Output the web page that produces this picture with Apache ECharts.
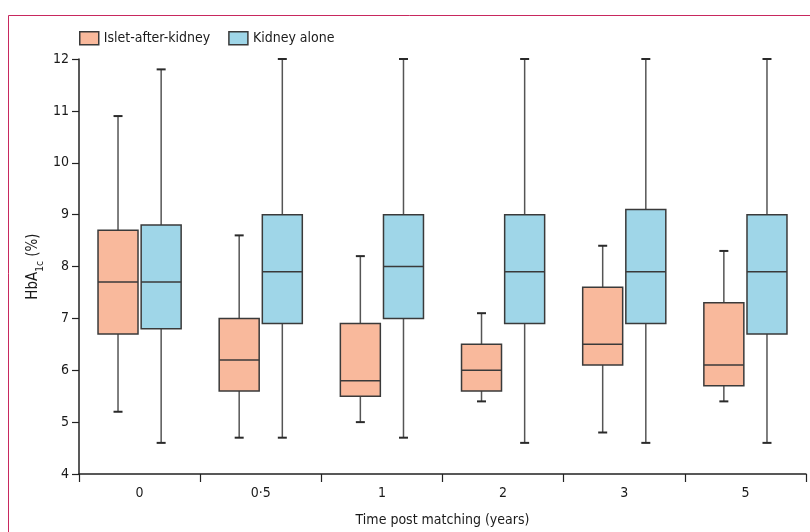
<!DOCTYPE html>
<html>
<head>
<meta charset="utf-8">
<script src="https://cdn.jsdelivr.net/npm/echarts@6/dist/echarts.min.js"></script>
<style>
html,body{margin:0;padding:0;background:#fff;}
#chart{width:810px;height:532px;}
</style>
</head>
<body>
<div id="chart"></div>
<script>
var categories = ['0', '0·5', '1', '2', '3', '5'];
var yTicks = [4, 5, 6, 7, 8, 9, 10, 11, 12];

var isletMin = [5.2, 4.7, 5.0, 5.4, 4.8, 5.4];
var isletQ1  = [6.7, 5.6, 5.5, 5.6, 6.1, 5.7];
var isletMed = [7.7, 6.2, 5.8, 6.0, 6.5, 6.1];
var isletQ3  = [8.7, 7.0, 6.9, 6.5, 7.6, 7.3];
var isletMax = [10.9, 8.6, 8.2, 7.1, 8.4, 8.3];

var kidneyMin = [4.6, 4.7, 4.7, 4.6, 4.6, 4.6];
var kidneyQ1  = [6.8, 6.9, 7.0, 6.9, 6.9, 6.7];
var kidneyMed = [7.7, 7.9, 8.0, 7.9, 7.9, 7.9];
var kidneyQ3  = [8.8, 9.0, 9.0, 9.0, 9.1, 9.0];
var kidneyMax = [11.8, 12, 12, 12, 12, 12];

var FONT = "'Liberation Sans Narrow', 'DejaVu Sans Condensed', 'Open Sans', sans-serif";
var FS = 14;
var TXT = '#1a1a1a';
var isletColor = '#f9b99c';
var kidneyColor = '#9fd6e8';
var edgeColor = '#3a3a3a';

function build(mins, q1s, meds, q3s, maxs) {
  return categories.map(function (c, i) {
    return [i, mins[i], q1s[i], meds[i], q3s[i], maxs[i]];
  });
}

function makeRender(offsetFrac, fill) {
  return function (params, api) {
    var idx = api.value(0);
    var band = api.size([1, 0])[0];
    var cx = api.coord([idx, 0])[0] + offsetFrac * band;
    var w = band * 0.33;
    var yMin = api.coord([idx, api.value(1)])[1];
    var yQ1 = api.coord([idx, api.value(2)])[1];
    var yMed = api.coord([idx, api.value(3)])[1];
    var yQ3 = api.coord([idx, api.value(4)])[1];
    var yMax = api.coord([idx, api.value(5)])[1];
    var cap = 4.5;
    var whiskerStyle = { stroke: '#555', lineWidth: 1.5 };
    var capStyle = { stroke: '#2a2a2a', lineWidth: 2 };
    return {
      type: 'group',
      children: [
        { type: 'line', shape: { x1: cx, y1: yMax, x2: cx, y2: yQ3 }, style: whiskerStyle },
        { type: 'line', shape: { x1: cx, y1: yQ1, x2: cx, y2: yMin }, style: whiskerStyle },
        { type: 'line', shape: { x1: cx - cap, y1: yMax, x2: cx + cap, y2: yMax }, style: capStyle },
        { type: 'line', shape: { x1: cx - cap, y1: yMin, x2: cx + cap, y2: yMin }, style: capStyle },
        { type: 'rect', shape: { x: cx - w / 2, y: yQ3, width: w, height: yQ1 - yQ3 },
          style: { fill: fill, stroke: edgeColor, lineWidth: 1.5 } },
        { type: 'line', shape: { x1: cx - w / 2, y1: yMed, x2: cx + w / 2, y2: yMed },
          style: { stroke: edgeColor, lineWidth: 1.5 } }
      ]
    };
  };
}

var chart = echarts.init(document.getElementById('chart'), null, { renderer: 'canvas' });
chart.setOption({
  animation: false,
  backgroundColor: '#fff',
  textStyle: { fontFamily: FONT },
  graphic: [{
    type: 'polyline',
    shape: { points: [[8.5, 532], [8.5, 15.5], [810, 15.5]] },
    style: { stroke: '#c8285e', lineWidth: 1, fill: null },
    silent: true
  }],
  legend: {
    left: 74,
    top: 26,
    itemWidth: 19,
    itemHeight: 13,
    itemGap: 18,
    textStyle: { fontFamily: FONT, fontSize: FS, color: TXT },
    data: [
      { name: 'Islet-after-kidney', icon: 'rect', itemStyle: { color: isletColor, borderColor: edgeColor, borderWidth: 1.5 } },
      { name: 'Kidney alone', icon: 'rect', itemStyle: { color: kidneyColor, borderColor: edgeColor, borderWidth: 1.5 } }
    ]
  },
  grid: { left: 79, right: 4, top: 59, bottom: 58, containLabel: false, outerBoundsMode: 'none' },
  xAxis: {
    type: 'category',
    data: categories,
    boundaryGap: true,
    name: 'Time post matching (years)',
    nameLocation: 'middle',
    nameGap: 39,
    nameMoveOverlap: false,
    nameTextStyle: { fontFamily: FONT, fontSize: FS, color: TXT },
    axisLine: { show: true, lineStyle: { color: '#222', width: 1.5 } },
    axisTick: { show: true, length: 8, alignWithLabel: false, lineStyle: { color: '#222', width: 1.2 } },
    axisLabel: { fontFamily: FONT, fontSize: FS, color: TXT, margin: 12 },
    splitLine: { show: false }
  },
  yAxis: {
    type: 'value',
    min: 4,
    max: 12,
    interval: 1,
    name: '{a|HbA}{s|1c}{a| (%)}',
    nameLocation: 'middle',
    nameGap: 38,
    nameMoveOverlap: false,
    nameRotate: 90,
    nameTextStyle: {
      color: TXT,
      rich: {
        a: { fontFamily: FONT, fontSize: 15, color: TXT, lineHeight: 20, verticalAlign: 'bottom' },
        s: { fontFamily: FONT, fontSize: 10, color: TXT, lineHeight: 20, verticalAlign: 'bottom', padding: [0, 0, -4, 0] }
      }
    },
    axisLine: { show: true, lineStyle: { color: '#222', width: 1.5 } },
    axisTick: { show: true, length: 7, lineStyle: { color: '#222', width: 1.2 } },
    axisLabel: {
      fontFamily: FONT, fontSize: FS, color: TXT, margin: 10,
      formatter: function (v) { return yTicks.indexOf(v) >= 0 ? String(v) : ''; }
    },
    splitLine: { show: false }
  },
  series: [
    {
      name: 'Islet-after-kidney',
      type: 'custom',
      renderItem: makeRender(-0.178, isletColor),
      encode: { x: 0, y: [1, 2, 3, 4, 5] },
      itemStyle: { color: isletColor },
      data: build(isletMin, isletQ1, isletMed, isletQ3, isletMax)
    },
    {
      name: 'Kidney alone',
      type: 'custom',
      renderItem: makeRender(0.178, kidneyColor),
      encode: { x: 0, y: [1, 2, 3, 4, 5] },
      itemStyle: { color: kidneyColor },
      data: build(kidneyMin, kidneyQ1, kidneyMed, kidneyQ3, kidneyMax)
    }
  ]
});
</script>
</body>
</html>
